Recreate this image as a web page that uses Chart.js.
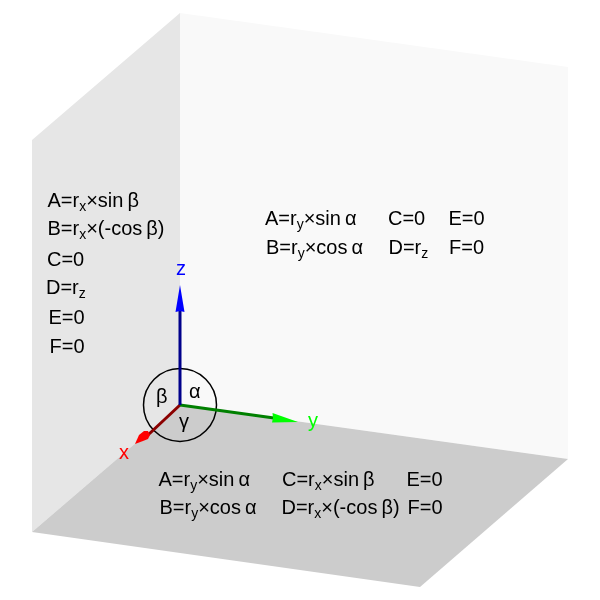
<!DOCTYPE html>
<html>
<head>
<meta charset="utf-8">
<style>
  html, body { margin: 0; padding: 0; background: #fff; }
  canvas { display: block; }
</style>
<script src="https://cdn.jsdelivr.net/npm/chart.js@4"></script>
</head>
<body>
<canvas id="chart" width="600" height="600"></canvas>
<script>
// faces of the box
const leftWall = [[180, 13], [32, 140], [32, 532], [180, 405]];
const backWall = [[180, 13], [568, 67], [568, 459], [180, 405]];
const floorFace = [[180, 405], [568, 459], [420, 587], [32, 532]];

// axes, all start at the origin
const origin = [180, 405];
const xShaft = [origin, [148, 435]];
const yShaft = [origin, [274, 418]];
const zShaft = [origin, [180, 310]];
const xHead = [[135, 444], [139, 435], [144, 431], [148, 431], [150, 435], [148, 439], [143, 441]];
const yHead = [[298, 422], [272.5, 413], [273, 418], [272, 422.5]];
const zHead = [[180, 285], [175.5, 312], [180, 311], [184.5, 312]];

// labels: text, x, baseline y. "_" starts a subscript, up to the next space
const wallLabels = [
  ['A=r_x ×sin\u2009β', 47.5, 206.5], ['B=r_x ×(-cos\u2009β)', 47.5, 235], ['C=0', 47, 265.5],
  ['D=r_z ', 46, 294], ['E=0', 48.5, 323.5], ['F=0', 49.5, 352.5]
];
const backLabels = [
  ['A=r_y ×sin\u2009α', 265, 225], ['C=0', 388, 225], ['E=0', 448.5, 225],
  ['B=r_y ×cos\u2009α', 266, 254], ['D=r_z ', 388.5, 254], ['F=0', 449, 254]
];
const floorLabels = [
  ['A=r_y ×sin\u2009α', 158.5, 486], ['C=r_x ×sin\u2009β', 282, 486], ['E=0', 406.5, 486],
  ['B=r_y ×cos\u2009α', 159.5, 514], ['D=r_x ×(-cos\u2009β)', 281.5, 514], ['F=0', 407.5, 514]
];
const angleLabels = [['α', 189, 398], ['β', 156, 403], ['γ', 179, 428]];
const axisLabels = [
  ['x', 119, 459, '#ff0000'], ['y', 308, 427, '#00ff00'], ['z', 176, 275, '#0000ff']
];

const toPoints = arr => arr.map(p => ({ x: p[0], y: p[1] }));

const face = (pts, color) => ({
  type: 'scatter', data: toPoints(pts), showLine: true, fill: 'shape',
  backgroundColor: color, borderWidth: 0, pointRadius: 0
});
const shaft = (pts, color) => ({
  type: 'scatter', data: toPoints(pts), showLine: true,
  borderColor: color, borderWidth: 3, pointRadius: 0
});

// draws all the text through the scales
const textPlugin = {
  id: 'textPlugin',
  afterDatasetsDraw(chart) {
    const ctx = chart.ctx;
    const sx = chart.scales.x, sy = chart.scales.y;
    const put = (label, color) => {
      let x = sx.getPixelForValue(label[1]);
      const y = sy.getPixelForValue(label[2]);
      ctx.fillStyle = color;
      ctx.textBaseline = 'alphabetic';
      label[0].split('_').forEach((part, i) => {
        let rest = part;
        if (i > 0) {
          const sub = part.split(' ')[0];
          rest = part.slice(sub.length + 1);
          ctx.font = '14px "Liberation Sans"';
          ctx.fillText(sub, x, y + 4);
          x += ctx.measureText(sub).width;
        }
        ctx.font = '20px "Liberation Sans"';
        ctx.fillText(rest, x, y);
        x += ctx.measureText(rest).width;
      });
    };
    ctx.save();
    ctx.textAlign = 'left';
    wallLabels.concat(backLabels, floorLabels, angleLabels).forEach(l => put(l, '#000'));
    axisLabels.forEach(l => put(l, l[3]));
    ctx.restore();
  }
};

new Chart(document.getElementById('chart').getContext('2d'), {
  type: 'scatter',
  data: {
    datasets: [
      face(leftWall, '#e6e6e6'),
      face(backWall, '#f9f9f9'),
      face(floorFace, '#cccccc'),
      {
        data: toPoints([origin]), pointRadius: 36.5, borderWidth: 1.5,
        borderColor: '#000', backgroundColor: 'rgba(0,0,0,0)'
      },
      shaft(xShaft, '#8b0000'),
      shaft(yShaft, '#008000'),
      shaft(zShaft, '#00008b'),
      face(xHead, '#ff0000'),
      face(yHead, '#00ff00'),
      face(zHead, '#0000ff')
    ].map((d, i, all) => Object.assign(d, { order: all.length - i }))
  },
  options: {
    responsive: false,
    animation: false,
    layout: { padding: 0, autoPadding: false },
    clip: false,
    plugins: {
      legend: { display: false },
      title: { display: false },
      tooltip: { enabled: false }
    },
    scales: {
      x: { type: 'linear', min: 0, max: 600, display: false },
      y: { type: 'linear', min: 0, max: 600, reverse: true, display: false }
    }
  },
  plugins: [textPlugin]
});
</script>
</body>
</html>
